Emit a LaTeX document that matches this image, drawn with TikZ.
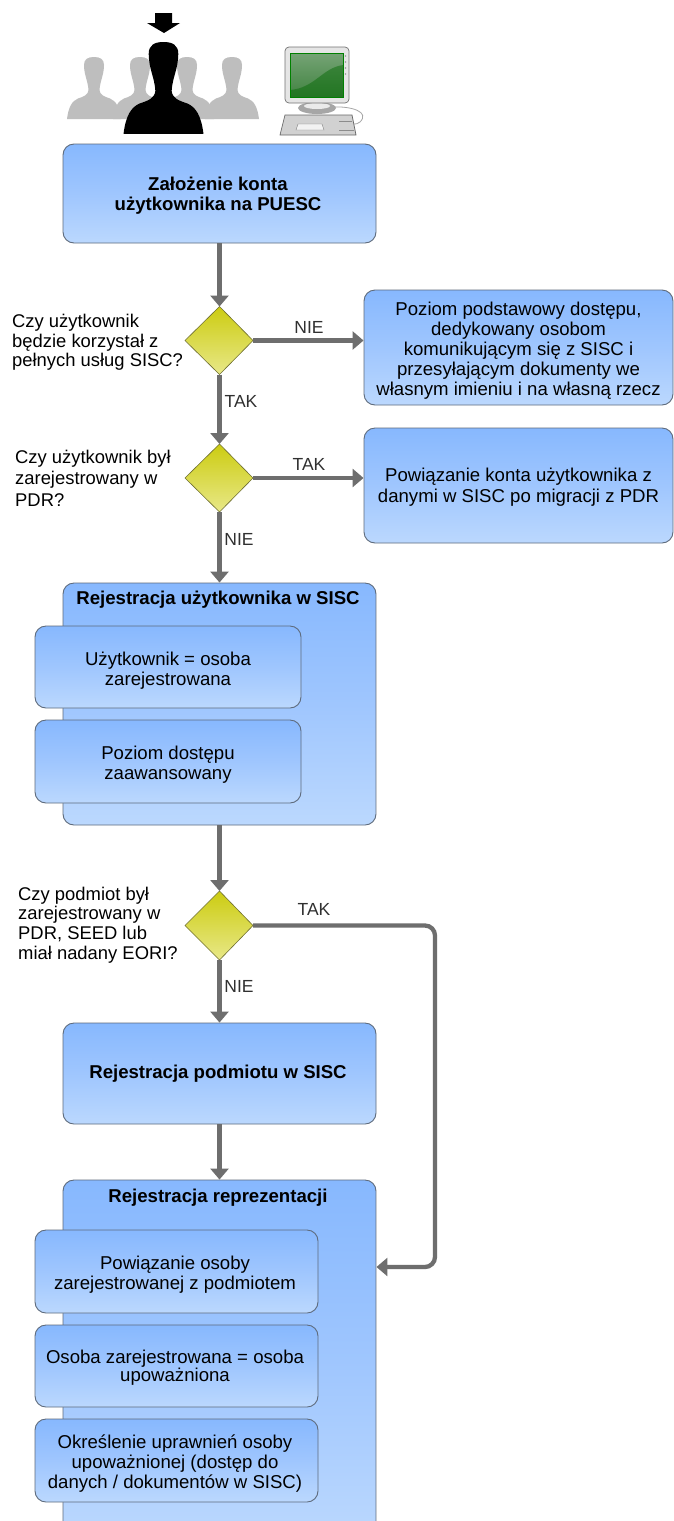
\documentclass[tikz,border=0pt]{standalone}
\usepackage{fontspec}
\setmainfont{Liberation Sans}
\usetikzlibrary{arrows.meta}
\tikzset{
  x=1pt,y=-1pt,
  box/.style={rounded corners=11pt,draw=boxedge,line width=0.9pt,top color=boxtop,bottom color=boxbot,middle color=boxmid},
  ibox/.style={box},
  lab/.style={font=\fontsize{18.6}{20}\selectfont,align=center,inner sep=0pt},
  qlab/.style={font=\fontsize{18.4}{19.6}\selectfont,align=left,anchor=west,inner sep=0pt},
  ttl/.style={font=\bfseries\fontsize{18.6}{20}\selectfont,align=center,inner sep=0pt},
  edgelab/.style={font=\fontsize{17.5}{20}\selectfont,text=edgetxt,inner sep=0pt},
  dia/.style={draw=diaedge,line width=0.6pt,top color=diatop,bottom color=diabot},
  conn/.style={draw=conncol,line width=4.3pt,-{Triangle[length=11pt,width=18pt]}},
}
\definecolor{boxedge}{HTML}{5E6B7C}
\definecolor{boxtop}{HTML}{87B8FE}
\definecolor{boxmid}{HTML}{9FC6FE}
\definecolor{boxbot}{HTML}{BBD8FE}
\definecolor{diatop}{HTML}{CCCC11}
\definecolor{diabot}{HTML}{E8E888}
\definecolor{diaedge}{HTML}{6E6E30}
\definecolor{conncol}{HTML}{6E6E6E}
\definecolor{edgetxt}{HTML}{303030}
\definecolor{grayp}{HTML}{BEBEBE}
\begin{document}
\begin{tikzpicture}
\useasboundingbox (0,0) rectangle (673,1521);
\fill[white] (0,0) rectangle (673,1521);
% people
\newcommand{\person}[1]{%
 \fill[#1] (-27,62) .. controls (-25.5,50) and (-22,44) .. (-16,41.5) .. controls (-10,39.5) and (-6,38) .. (-5.5,33) .. controls (-6,24) and (-10,18) .. (-10,8) .. controls (-10,2) and (-6,0) .. (0,0) .. controls (6,0) and (10,2) .. (10,8) .. controls (10,18) and (6,24) .. (5.5,33) .. controls (6,38) and (10,39.5) .. (16,41.5) .. controls (22,44) and (25.5,50) .. (27,62) -- cycle;}
\begin{scope}[shift={(94,57)}] \person{grayp} \end{scope}
\begin{scope}[shift={(140,57)}] \person{grayp} \end{scope}
\begin{scope}[shift={(187,57)}] \person{grayp} \end{scope}
\begin{scope}[shift={(232,57)}] \person{grayp} \end{scope}
\begin{scope}[shift={(163.5,42)},scale=1.48] \person{black} \end{scope}
\fill[black] (155,13) -- (172,13) -- (172,23) -- (180,23) -- (164,33) -- (147,23) -- (155,23) -- cycle;
% monitor
\draw[black!35,line width=0.8pt] (332,107) .. controls (352,106) and (370,112) .. (360,122) .. controls (358,124) and (356,124) .. (352,124);
\fill[gray!70!white] (317,108) ellipse (19 and 6);
\fill[black!8] (317,106) ellipse (13 and 3);
\draw[black!55,fill=black!10,rounded corners=4pt,line width=0.7pt] (285,47) -- (349,47) -- (349,103) -- (285,103) -- cycle;
\shade[top color=green!20!gray!90!white,bottom color=green!35!black!75] (290,53) rectangle (343,97);
\fill[black!60!green,opacity=0.45] (290,97) -- (290,90) .. controls (315,88) and (322,68) .. (343,65) -- (343,97) -- cycle;
\draw[green!50!black,line width=0.8pt] (290,53) rectangle (343,97);
\foreach \yy in {56,62,68,74} \fill[black!40] (345.5,\yy) circle (0.9);
\draw[black!60,fill=black!18,line width=0.7pt] (285,115) -- (352,115) -- (356,135) -- (280,135) -- cycle;
\draw[black!50,fill=black!5,line width=0.4pt] (298,124) -- (322,124) -- (324,130) -- (296,130) -- cycle;
\draw[black!45,line width=0.4pt] (339,121) -- (352,121) (339,130) -- (354,130);
% boxes
\node[box,minimum width=313pt,minimum height=99pt] (b1) at (219.5,193.5) {};
\node[ttl] at (218,195.5) {Założenie konta\\użytkownika na PUESC};
\node[box,minimum width=309pt,minimum height=115pt] (r1) at (518.5,347.5) {};
\node[lab] at (518.5,351) {Poziom podstawowy dostępu,\\dedykowany osobom\\komunikującym się z SISC i\\przesyłającym dokumenty we\\własnym imieniu i na własną rzecz};
\node[box,minimum width=309pt,minimum height=115pt] (r2) at (518.5,485.5) {};
\node[lab] at (518.5,487) {Powiązanie konta użytkownika z\\[1.5pt]danymi w SISC po migracji z PDR};
\node[box,minimum width=313pt,minimum height=242pt] (g1) at (219.5,704) {};
\node[ttl] at (218,600) {Rejestracja użytkownika w SISC};
\node[ibox,minimum width=266pt,minimum height=82pt] (g1a) at (168,667) {};
\node[lab] at (168,670.5) {Użytkownik = osoba\\zarejestrowana};
\node[ibox,minimum width=266pt,minimum height=83pt] (g1b) at (168,761.5) {};
\node[lab] at (168,764.5) {Poziom dostępu\\zaawansowany};
\node[box,minimum width=313pt,minimum height=101pt] (b4) at (219.5,1073.5) {};
\node[ttl] at (218,1074) {Rejestracja podmiotu w SISC};
\node[box,minimum width=313pt,minimum height=360pt] (g2) at (219.5,1360) {};
\node[ttl] at (218,1198) {Rejestracja reprezentacji};
\node[ibox,minimum width=283pt,minimum height=83pt] (g2a) at (176.5,1271.5) {};
\node[lab] at (175,1274.5) {Powiązanie osoby\\zarejestrowanej z podmiotem};
\node[ibox,minimum width=283pt,minimum height=82pt] (g2b) at (176.5,1366) {};
\node[lab] at (175,1367.5) {Osoba zarejestrowana = osoba\\[-1.5pt]upoważniona};
\node[ibox,minimum width=283pt,minimum height=83pt] (g2c) at (176.5,1460.5) {};
\node[lab] at (175,1464) {Określenie uprawnień osoby\\upoważnionej (dostęp do\\danych / dokumentów w SISC)};
% diamonds
\draw[dia] (185,340.5) -- (219.5,306.5) -- (253,340.5) -- (219.5,374.5) -- cycle;
\draw[dia] (185,478) -- (219.5,444) -- (253,478) -- (219.5,512) -- cycle;
\draw[dia] (185,925.5) -- (219.5,891) -- (253,925.5) -- (219.5,960) -- cycle;
\node[shape=coordinate] (d1t) at (219.5,306.5) {};
\node[shape=coordinate] (d1b) at (219.5,374.5) {};
\node[shape=coordinate] (d1r) at (253,340.5) {};
\node[shape=coordinate] (d2t) at (219.5,444) {};
\node[shape=coordinate] (d2b) at (219.5,512) {};
\node[shape=coordinate] (d2r) at (253,478) {};
\node[shape=coordinate] (d3t) at (219.5,891) {};
\node[shape=coordinate] (d3b) at (219.5,960) {};
\node[shape=coordinate] (d3r) at (253,925.5) {};
% questions
\node[qlab] at (12,342.5) {Czy użytkownik\\będzie korzystał z\\pełnych usług SISC?};
\node[qlab] at (15,478) {Czy użytkownik był\\[1.8pt]zarejestrowany w\\[1.8pt]PDR?};
\node[qlab] at (18,925) {Czy podmiot był\\zarejestrowany w\\PDR, SEED lub\\miał nadany EORI?};
% connectors
\draw[conn] (b1.south -| d1t) -- (d1t);
\draw[conn] (d1b) -- (d2t);
\draw[conn] (d2b) -- (g1.north -| d2b);
\draw[conn] (g1.south -| d3t) -- (d3t);
\draw[conn] (d3b) -- (b4.north -| d3b);
\draw[conn] (b4.south -| d3b) -- (g2.north -| d3b);
\draw[conn] (d1r) -- (r1.west |- d1r);
\draw[conn] (d2r) -- (r2.west |- d2r);
\draw[conn,rounded corners=10pt] (d3r) -- (435,925.5) -- (435,1267) -- (g2.east |- 0,1267);
% edge labels
\node[edgelab] at (309,327) {NIE};
\node[edgelab] at (241,401) {TAK};
\node[edgelab] at (309,464) {TAK};
\node[edgelab] at (239,539) {NIE};
\node[edgelab] at (314,909) {TAK};
\node[edgelab] at (239,986) {NIE};
\end{tikzpicture}
\end{document}
